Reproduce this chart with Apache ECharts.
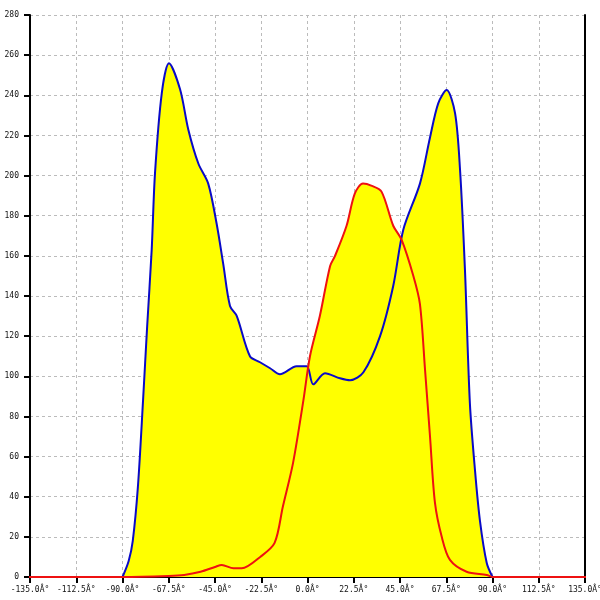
<!DOCTYPE html>
<html>
<head>
<meta charset="utf-8">
<script src="https://cdn.jsdelivr.net/npm/echarts@6/dist/echarts.min.js"></script>
<style>
  html, body { margin: 0; padding: 0; background: #fff; }
  #chart { width: 600px; height: 600px; }
</style>
</head>
<body>
<div id="chart"></div>
<script>
// angle (deg) / count pairs
const blueAngles = [-90, -87, -85, -82.5, -80, -78, -75.8, -74.2, -70.9, -67.4, -62, -58, -53.1, -48.3, -44.2, -41, -37.7, -34.4, -28, -23.1, -18.2, -13.4, -5.3, -0.4, 2.8, 8.5, 15.8, 20.7, 27.2, 35.3, 41.7, 46.6, 54.7, 59.6, 63.6, 67.7, 71.8, 74.2, 76.6, 79, 81.5, 83.9, 87.2, 90];
const blueValues = [0, 8, 18, 45, 88, 125, 163, 201, 241, 256, 243, 223, 206, 196, 176, 156, 135, 130, 110, 107, 104, 101, 105, 105, 96, 101.5, 99, 98, 102, 120, 145, 173, 196, 219, 236, 242.6, 231, 203, 153, 86.5, 53, 28, 7, 0];

const redAngles = [-180, -90, -67.5, -60, -52, -45, -41.7, -36, -32, -23, -16, -12, -7, -2, 1.2, 6, 11, 13.4, 19, 23, 27, 31, 36, 41.7, 45.8, 51.5, 54.7, 57.2, 59.6, 62, 65.3, 69.3, 77.4, 87.2, 90, 180];
const redValues = [0, 0, 0.5, 1, 2.6, 5, 6, 4.3, 4.3, 10, 17, 35, 57, 88, 110, 130, 155, 160, 175, 191, 196, 195, 192, 175, 168, 150, 136, 103, 70, 37, 20, 8.5, 2.6, 1, 0, 0];

const xTicks = { min: -135, max: 135, step: 22.5 };
const yTicks = { min: 0, max: 280, step: 20 };

const pairs = (xs, ys) => xs.map((x, i) => [x, ys[i]]);
const blueData = pairs(blueAngles, blueValues);
const redData = pairs(redAngles, redValues);

const chart = echarts.init(document.getElementById('chart'));

const gridLine = { show: true, lineStyle: { color: '#bbb', type: [3, 3], width: 1 } };
const labelFont = { fontFamily: 'DejaVu Sans Mono', fontSize: 8, color: '#111' };

const option = {
  animation: false,
  backgroundColor: '#fff',
  grid: { left: 30, right: 15, top: 15, bottom: 23, containLabel: false, outerBoundsMode: 'none' },
  xAxis: {
    type: 'value',
    min: xTicks.min,
    max: xTicks.max,
    interval: xTicks.step,
    axisLine: { show: true, onZero: false, lineStyle: { color: '#000', width: 2 } },
    axisTick: { show: true, length: 6, lineStyle: { color: '#000', width: 2 } },
    axisLabel: Object.assign({
      margin: 9,
      hideOverlap: false,
      showMinLabel: true,
      showMaxLabel: true,
      formatter: v => v.toFixed(1) + 'Â°'
    }, labelFont),
    splitLine: gridLine
  },
  yAxis: [
    {
      type: 'value',
      min: yTicks.min,
      max: yTicks.max,
      interval: yTicks.step,
      axisLine: { show: true, onZero: false, lineStyle: { color: '#000', width: 2 } },
      axisTick: { show: true, length: 6, lineStyle: { color: '#000', width: 2 } },
      axisLabel: Object.assign({ margin: 11 }, labelFont),
      splitLine: gridLine
    },
    {
      type: 'value',
      position: 'right',
      min: yTicks.min,
      max: yTicks.max,
      interval: yTicks.step,
      axisLine: { show: true, onZero: false, lineStyle: { color: '#000', width: 2 } },
      axisTick: { show: false },
      axisLabel: { show: false },
      splitLine: { show: false }
    }
  ],
  series: [
    // yellow fills first so both lines stay on top
    {
      type: 'line', data: blueData, smooth: 0.3, showSymbol: false, z: 1,
      lineStyle: { width: 0 }, areaStyle: { color: '#ffff00', opacity: 1 }
    },
    {
      type: 'line', data: redData, smooth: 0.3, showSymbol: false, z: 1,
      lineStyle: { width: 0 }, areaStyle: { color: '#ffff00', opacity: 1 }
    },
    {
      type: 'line', data: blueData, smooth: 0.3, showSymbol: false, z: 3,
      lineStyle: { color: '#0a0ac8', width: 2 }
    },
    {
      type: 'line', data: redData, smooth: 0.3, showSymbol: false, z: 4, clip: false,
      lineStyle: { color: '#ee1111', width: 2 }
    }
  ]
};

chart.setOption(option);
</script>
</body>
</html>
